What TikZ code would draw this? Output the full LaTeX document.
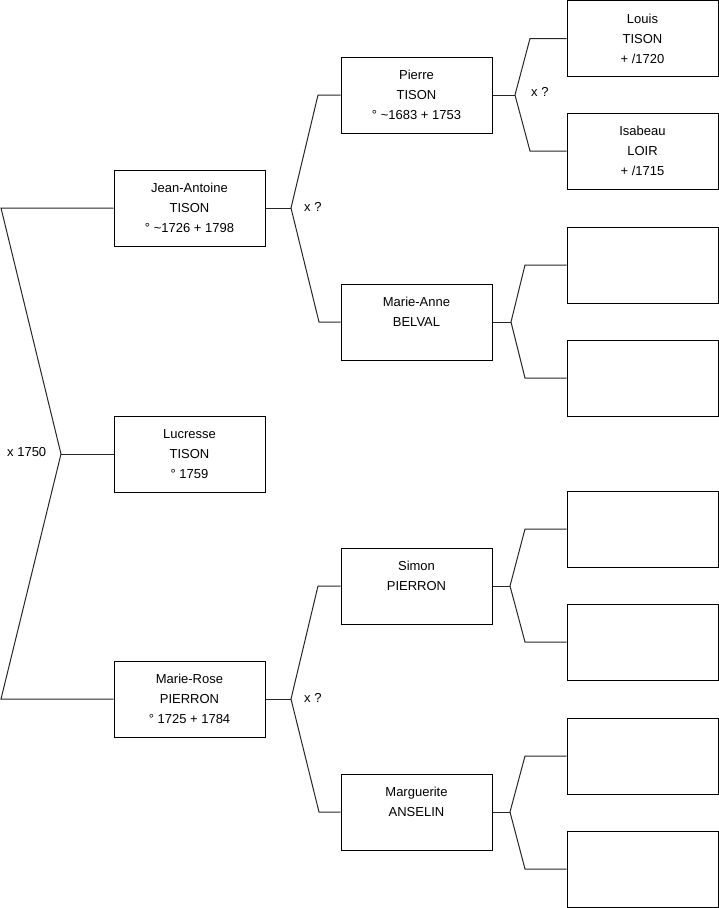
\documentclass[tikz,border=0pt]{standalone}
\usepackage{fontspec}
\setmainfont{Liberation Sans}
\begin{document}
\begin{tikzpicture}[x=1pt,y=-1pt,
  person/.style={draw=black,line width=1pt,rectangle,minimum width=151pt,minimum height=76pt,inner sep=0pt,align=center,font=\fontsize{13}{20}\selectfont},
  link/.style={draw=black!85,line width=1pt},
  lbl/.style={font=\fontsize{13}{15}\selectfont,inner sep=0pt}]
\useasboundingbox (0,0) rectangle (719,908);
% generation 1
\node[person] (ja) at (189.5,208) {Jean-Antoine\\TISON\\° \textasciitilde1726 + 1798};
\node[person] (lu) at (189.5,454) {Lucresse\\TISON\\° 1759};
\node[person] (mr) at (189.5,699) {Marie-Rose\\PIERRON\\° 1725 + 1784};
% generation 2
\node[person] (pi) at (416.5,95) {Pierre\\TISON\\° \textasciitilde1683 + 1753};
\node[person] (ma) at (416.5,322) {Marie-Anne\\BELVAL\\\mbox{}};
\node[person] (si) at (416.5,586) {Simon\\PIERRON\\\mbox{}};
\node[person] (mg) at (416.5,812) {Marguerite\\ANSELIN\\\mbox{}};
% generation 3
\node[person] (lo) at (642.5,38.5) {Louis\\TISON\\+ /1720};
\node[person] (is) at (642.5,151) {Isabeau\\LOIR\\+ /1715};
\node[person] (e1) at (642.5,265) {};
\node[person] (e2) at (642.5,378) {};
\node[person] (e3) at (642.5,529) {};
\node[person] (e4) at (642.5,642) {};
\node[person] (e5) at (642.5,756) {};
\node[person] (e6) at (642.5,869) {};
% labels
\node[lbl,anchor=west] (l0) at (7,452) {x 1750};
\node[lbl,anchor=west] (l1) at (304,207) {x ?};
\node[lbl,anchor=west] (l2) at (304,698) {x ?};
\node[lbl,anchor=west] (l3) at (531,92) {x ?};
% bend points
\coordinate (a0) at (1,208);
\coordinate (m0) at (61,454);
\coordinate (b0) at (1,699);
\coordinate (f1) at (291,208); \coordinate (p1) at (318,95); \coordinate (q1) at (319,322);
\coordinate (f2) at (291,699); \coordinate (p2) at (318,586); \coordinate (q2) at (319,812);
\coordinate (f3) at (515,95); \coordinate (p3) at (530,38.5); \coordinate (q3) at (530,151);
\coordinate (f4) at (511,322); \coordinate (p4) at (525,265); \coordinate (q4) at (525,378);
\coordinate (f5) at (510,586); \coordinate (p5) at (525,529); \coordinate (q5) at (525,642);
\coordinate (f6) at (510,812); \coordinate (p6) at (525,756); \coordinate (q6) at (525,869);
% connectors
\draw[link] (ja.west) -- (a0) -- (m0) -- (b0) -- (mr.west);
\draw[link] (m0) -- (lu.west);
\draw[link] (pi.west) -- (p1) -- (f1) -- (q1) -- (ma.west);
\draw[link] (ja.east) -- (f1);
\draw[link] (si.west) -- (p2) -- (f2) -- (q2) -- (mg.west);
\draw[link] (mr.east) -- (f2);
\draw[link] (lo.west) -- (p3) -- (f3) -- (q3) -- (is.west);
\draw[link] (pi.east) -- (f3);
\draw[link] (e1.west) -- (p4) -- (f4) -- (q4) -- (e2.west);
\draw[link] (ma.east) -- (f4);
\draw[link] (e3.west) -- (p5) -- (f5) -- (q5) -- (e4.west);
\draw[link] (si.east) -- (f5);
\draw[link] (e5.west) -- (p6) -- (f6) -- (q6) -- (e6.west);
\draw[link] (mg.east) -- (f6);
\end{tikzpicture}
\end{document}
